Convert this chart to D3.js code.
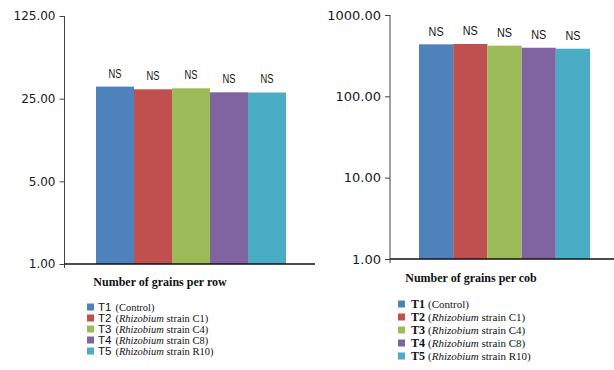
<!DOCTYPE html>
<html>
<head>
<meta charset="utf-8">
<script src="https://cdn.jsdelivr.net/npm/d3@7"></script>
<style>
  html, body { margin: 0; padding: 0; background: #fff; }
  svg { display: block; }
</style>
</head>
<body>
<svg id="chart" width="614" height="370"></svg>
<script>
// Treatments and their colours
const treatments = ["T1", "T2", "T3", "T4", "T5"];
const strains = [null, "C1", "C4", "C8", "R10"];
const colors = ["#4F81BD", "#C0504D", "#9BBB59", "#8064A2", "#4BACC6"];

// Measured traits
const grainsPerRow = [31.6, 30.0, 30.6, 28.3, 28.2];
const grainsPerCob = [436, 440, 420, 396, 385];
const significance = ["NS", "NS", "NS", "NS", "NS"];

// Axis tick values (log scales)
const rowTicks = [1, 5, 25, 125];
const cobTicks = [1, 10, 100, 1000];

const svg = d3.select("#chart");
const fmt = d3.format(".2f");

function panel(cfg) {
  const g = svg.append("g");
  const y = d3.scaleLog().base(cfg.base).domain(cfg.domain).range([cfg.y0, cfg.y1]);
  const x = d3.scaleBand().domain(treatments).range(cfg.barRange).paddingInner(0);

  // bars
  g.selectAll("rect.bar").data(cfg.values).join("rect")
    .attr("class", "bar")
    .attr("x", (d, i) => x(treatments[i]))
    .attr("width", x.bandwidth())
    .attr("y", d => y(d))
    .attr("height", d => y(cfg.domain[0]) - y(d))
    .attr("fill", (d, i) => colors[i]);

  // significance labels
  g.selectAll("text.sig").data(cfg.values).join("text")
    .attr("class", "sig")
    .attr("x", (d, i) => x(treatments[i]) + x.bandwidth() / 2)
    .attr("y", d => y(d) - cfg.sigGap)
    .attr("text-anchor", "middle")
    .attr("font-family", "Liberation Sans, Arial, sans-serif")
    .attr("font-size", cfg.sigSize)
    .attr("fill", "#111")
    .attr("textLength", cfg.sigWidth)
    .attr("lengthAdjust", "spacingAndGlyphs")
    .text((d, i) => significance[i]);

  // y axis
  const ax = g.append("g")
    .attr("transform", `translate(${cfg.axisX},0)`)
    .call(d3.axisLeft(y).tickValues(cfg.ticks).tickFormat(fmt).tickSize(5).tickPadding(4).tickSizeOuter(0));
  ax.select(".domain").attr("stroke", "#444").attr("d", `M0,${cfg.y1}V${cfg.y0 + 4}`);
  ax.selectAll(".tick line").attr("stroke", "#444");
  ax.selectAll(".tick text")
    .attr("font-family", "DejaVu Sans, Verdana, sans-serif")
    .attr("font-size", cfg.tickSize)
    .attr("fill", "#1a1a1a");

  // x axis baseline
  g.append("line")
    .attr("x1", cfg.axisX).attr("x2", cfg.xEnd)
    .attr("y1", y(cfg.domain[0])).attr("y2", y(cfg.domain[0]))
    .attr("stroke", "#111").attr("stroke-width", 1.3);

  // x axis title
  g.append("text")
    .attr("x", cfg.titleX).attr("y", cfg.titleY)
    .attr("text-anchor", "middle")
    .attr("font-family", "Liberation Serif, Times New Roman, serif")
    .attr("font-weight", "bold")
    .attr("font-size", 12)
    .attr("fill", "#111")
    .text(cfg.title);

  // legend
  const leg = g.append("g");
  treatments.forEach((t, i) => {
    const ly = cfg.legendY[i];
    leg.append("rect")
      .attr("x", cfg.legendX).attr("y", ly - 3.5)
      .attr("width", 7).attr("height", 7)
      .attr("fill", colors[i]);
    const txt = leg.append("text")
      .attr("x", cfg.legendX + cfg.legendTextDx).attr("y", ly + 4)
      .attr("fill", "#111")
      .attr("font-family", "Liberation Serif, Times New Roman, serif")
      .attr("font-size", cfg.noteSize);
    txt.append("tspan")
      .attr("font-family", cfg.codeFont)
      .attr("font-weight", cfg.codeWeight)
      .attr("font-size", cfg.codeSize)
      .text(t);
    if (strains[i] === null) {
      txt.append("tspan").attr("dx", cfg.codeGap).text("(Control)");
    } else {
      txt.append("tspan").attr("dx", cfg.codeGap).text("(");
      txt.append("tspan").attr("font-style", "italic").text("Rhizobium");
      txt.append("tspan").text(" strain " + strains[i] + ")");
    }
  });
}

panel({
  base: 5, domain: [1, 125], y0: 264, y1: 16,
  barRange: [96, 286], axisX: 64.5, xEnd: 315,
  values: grainsPerRow, ticks: rowTicks, tickSize: 12,
  sigGap: 9, sigSize: 12, sigWidth: 13,
  title: "Number of grains per row", titleX: 160, titleY: 286,
  legendX: 87, legendTextDx: 11, legendY: [307, 318, 329, 340, 351],
  codeFont: "Liberation Sans, Arial, sans-serif", codeWeight: "normal", codeSize: 11.5, codeGap: 4, noteSize: 10.5
});

panel({
  base: 10, domain: [1, 1000], y0: 259, y1: 15,
  barRange: [419, 590], axisX: 390, xEnd: 614,
  values: grainsPerCob, ticks: cobTicks, tickSize: 13,
  sigGap: 8.5, sigSize: 13, sigWidth: 15,
  title: "Number of grains per cob", titleX: 471, titleY: 282,
  legendX: 398, legendTextDx: 13, legendY: [304, 317, 330, 343, 356],
  codeFont: "Liberation Serif, Times New Roman, serif", codeWeight: "bold", codeSize: 12, codeGap: 3, noteSize: 11
});
</script>
</body>
</html>
